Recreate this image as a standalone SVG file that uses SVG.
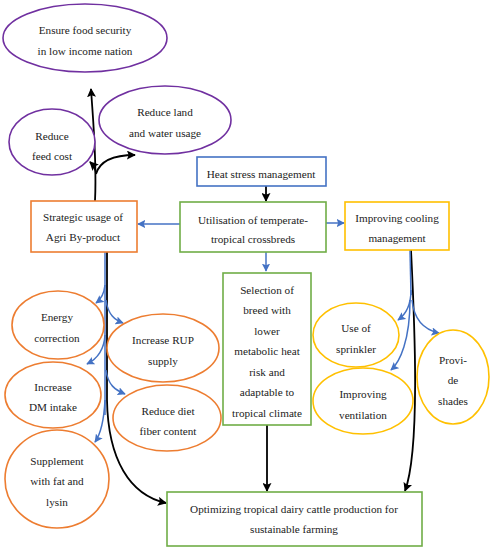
<svg xmlns="http://www.w3.org/2000/svg" width="494" height="550" viewBox="0 0 494 550">
<defs>
<style>
text{font-family:"Liberation Serif","Times New Roman",serif;font-size:11.2px;fill:#222;text-anchor:middle}
.pu{fill:#fff;stroke:#7030A0;stroke-width:1.6}
.or{fill:#fff;stroke:#ED7D31;stroke-width:1.6}
.gr{fill:#fff;stroke:#70AD47;stroke-width:1.6}
.ye{fill:#fff;stroke:#FFC000;stroke-width:1.6}
.bl{fill:#fff;stroke:#4472C4;stroke-width:1.6}
.ka{fill:none;stroke:#000;stroke-width:1.8;marker-end:url(#ak)}
.kl{fill:none;stroke:#000;stroke-width:1.8}
.ba{fill:none;stroke:#4472C4;stroke-width:1.5;marker-end:url(#ab)}
.bs{fill:none;stroke:#4472C4;stroke-width:1.5}
</style>
<marker id="ak" viewBox="0 0 10 10" refX="9" refY="5" markerWidth="5" markerHeight="5" orient="auto" markerUnits="strokeWidth"><path d="M0,0 L10,5 L0,10 L2,5 Z" fill="#000"/></marker>
<marker id="ab" viewBox="0 0 10 10" refX="9" refY="5" markerWidth="5.5" markerHeight="5.5" orient="auto" markerUnits="strokeWidth"><path d="M0,0 L10,5 L0,10 L2,5 Z" fill="#4472C4"/></marker>
</defs>

<g id="connectors">
<path class="ka" d="M95,201 C97,160 93,120 91,89"/>
<path class="ka" d="M96,174 C96,168 93,165 90,162"/>
<path class="ka" d="M96,174 C100,160 115,155 135,155"/>
<path class="ka" d="M266,186 L266,201"/>
<path class="ba" d="M326,223 L344,223"/>
<path class="ba" d="M180,224 L138,224"/>
<path class="ba" d="M266,252 L266,271"/>
<path class="kl" d="M107,252 L107,400"/>
<path class="ka" d="M107,400 C108,460 130,495 166,503"/>
<path class="bs" d="M105,252 L105,415"/>
<path class="ba" d="M105,285 C104,295 100,300 96,303"/>
<path class="ba" d="M106,300 C108,315 115,320 123,323"/>
<path class="ba" d="M105,335 C104,352 95,360 87,364"/>
<path class="ba" d="M106,370 C108,385 115,390 125,394"/>
<path class="ba" d="M105,400 C104,420 100,435 95,442"/>
<path class="ka" d="M267,425 L267,491"/>
<path class="ka" d="M411,250 C415,330 420,450 405,491"/>
<path class="bs" d="M410,250 L411,295"/>
<path class="ba" d="M411,290 C411,305 405,315 398,320"/>
<path class="ba" d="M410,300 C410,340 400,362 391,370"/>
<path class="ba" d="M412,300 C414,320 425,330 439,333"/>
</g>

<g id="n-ensure"><ellipse class="pu" cx="85" cy="38" rx="82" ry="34"/><text x="85" y="34">Ensure food security</text><text x="85" y="55">in low income nation</text></g>
<g id="n-feed"><ellipse class="pu" cx="52" cy="142" rx="43" ry="33"/><text x="52" y="140">Reduce</text><text x="52" y="160">feed cost</text></g>
<g id="n-land"><ellipse class="pu" cx="165" cy="120" rx="66" ry="34"/><text x="165" y="116">Reduce land</text><text x="165" y="137">and water usage</text></g>

<g id="n-heat"><rect class="bl" x="197" y="157" width="129" height="29"/><text x="261" y="178">Heat stress management</text></g>
<g id="n-util"><rect class="gr" x="180" y="202" width="146" height="50"/><text x="253" y="224">Utilisation of temperate-</text><text x="253" y="243">tropical crossbreds</text></g>
<g id="n-cool"><rect class="ye" x="345" y="202" width="104" height="48"/><text x="397" y="222">Improving cooling</text><text x="397" y="242">management</text></g>
<g id="n-strat"><rect class="or" x="31" y="201" width="106" height="51"/><text x="83" y="221">Strategic usage of</text><text x="83" y="241">Agri By-product</text></g>

<g id="n-select"><rect class="gr" x="223" y="273" width="88" height="152"/>
<text x="267" y="294">Selection of</text><text x="267" y="314">breed with</text><text x="267" y="335">lower</text><text x="267" y="355">metabolic heat</text><text x="267" y="376">risk and</text><text x="267" y="396">adaptable to</text><text x="267" y="417">tropical climate</text></g>

<g id="n-energy"><ellipse class="or" cx="58" cy="325" rx="46" ry="34"/><text x="57" y="321">Energy</text><text x="57" y="342">correction</text></g>
<g id="n-rup"><ellipse class="or" cx="163" cy="348" rx="56" ry="34"/><text x="163" y="344">Increase RUP</text><text x="163" y="365">supply</text></g>
<g id="n-dm"><ellipse class="or" cx="53" cy="395" rx="48" ry="33"/><text x="53" y="391">Increase</text><text x="53" y="411">DM intake</text></g>
<g id="n-fiber"><ellipse class="or" cx="167" cy="418" rx="54" ry="33"/><text x="168" y="415">Reduce diet</text><text x="168" y="435">fiber content</text></g>
<g id="n-supp"><ellipse class="or" cx="57" cy="479" rx="52" ry="49"/><text x="57" y="465">Supplement</text><text x="57" y="485">with fat and</text><text x="57" y="506">lysin</text></g>

<g id="n-sprink"><ellipse class="ye" cx="356" cy="335" rx="43" ry="32"/><text x="356" y="332">Use of</text><text x="356" y="353">sprinkler</text></g>
<g id="n-vent"><ellipse class="ye" cx="363" cy="401" rx="50" ry="33"/><text x="363" y="398">Improving</text><text x="363" y="419">ventilation</text></g>
<g id="n-shade"><ellipse class="ye" cx="453" cy="377" rx="36" ry="47"/><text x="453" y="364">Provi-</text><text x="453" y="384">de</text><text x="453" y="405">shades</text></g>

<g id="n-opt"><rect class="gr" x="167" y="492" width="255" height="54"/><text x="294" y="513">Optimizing tropical dairy cattle production for</text><text x="294" y="533">sustainable farming</text></g>
</svg>
